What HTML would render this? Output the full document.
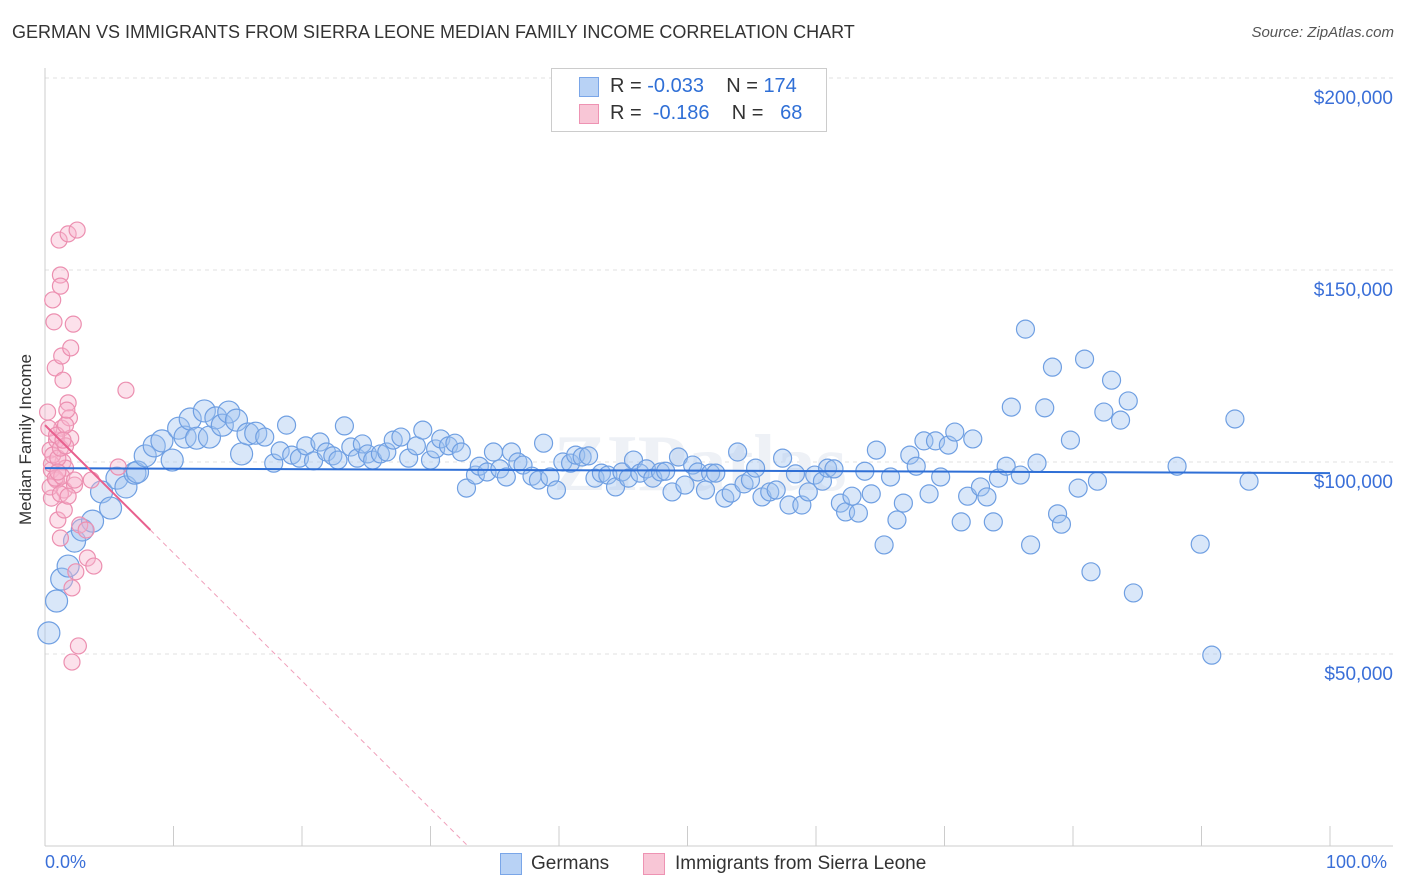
<!DOCTYPE html>
<html><head><meta charset="utf-8">
<style>
body{margin:0;background:#fff;font-family:"Liberation Sans",sans-serif;}
#wrap{position:relative;width:1406px;height:892px;overflow:hidden;}
.t{position:absolute;white-space:nowrap;}
</style></head>
<body>
<div id="wrap">
<div class="t" style="left:12px;top:22px;font-size:18px;color:#333;">GERMAN VS IMMIGRANTS FROM SIERRA LEONE MEDIAN FAMILY INCOME CORRELATION CHART</div>
<div class="t" style="right:12px;top:24px;font-size:15px;color:#555;font-style:italic;">Source: ZipAtlas.com</div>
<div class="t" style="left:-44px;top:445px;font-size:17px;color:#333;transform:rotate(-90deg);width:140px;text-align:center;">Median Family Income</div>
<svg id="svg" width="1406" height="892" style="position:absolute;left:0;top:0"></svg>
<div class="t" style="left:45px;top:852px;font-size:18px;color:#3a6fd8;">0.0%</div>
<div class="t" style="left:1326px;top:852px;font-size:18px;color:#3a6fd8;">100.0%</div>
<div style="position:absolute;left:551px;top:68px;width:274px;height:62px;border:1px solid #ccc;background:#fff;font-size:20px;">
  <div style="position:absolute;left:27px;top:8px;width:18px;height:18px;background:#b8d2f5;border:1px solid #7aa6e8;"></div>
  <div class="t" style="left:58px;top:6px;color:#333;">R = <span style="color:#2f6fd6">-0.033</span>&nbsp;&nbsp;&nbsp; N = <span style="color:#2f6fd6">174</span></div>
  <div style="position:absolute;left:27px;top:35px;width:18px;height:18px;background:#f8c6d6;border:1px solid #ee93b3;"></div>
  <div class="t" style="left:58px;top:33px;color:#333;">R = &nbsp;<span style="color:#2f6fd6">-0.186</span>&nbsp;&nbsp;&nbsp; N = &nbsp;&nbsp;<span style="color:#2f6fd6">68</span></div>
</div>
<div style="position:absolute;left:500px;top:853px;width:20px;height:20px;background:#b8d2f5;border:1px solid #7aa6e8;"></div>
<div class="t" style="left:531px;top:853px;font-size:19px;color:#333;">Germans</div>
<div style="position:absolute;left:643px;top:853px;width:20px;height:20px;background:#f8c6d6;border:1px solid #ee93b3;"></div>
<div class="t" style="left:675px;top:853px;font-size:19px;color:#333;">Immigrants from Sierra Leone</div>
</div>
<script>
const yTicks=[50000,100000,150000,200000];
const yTickLabels=["$50,000","$100,000","$150,000","$200,000"];
const xTicks=[0,10,20,30,40,50,60,70,80,90,100];
const blueX=[0.3,0.9,1.3,1.8,2.3,2.9,3.7,4.4,5.1,5.6,6.3,7.0,7.2,7.8,8.5,9.1,9.9,10.4,10.9,11.3,11.8,12.4,12.8,13.3,13.8,14.3,14.9,15.3,15.8,16.4,17.1,17.8,18.3,18.8,19.2,19.8,20.3,20.9,21.4,21.9,22.4,22.8,23.3,23.8,24.3,24.7,25.1,25.5,26.1,26.6,27.1,27.7,28.3,28.9,29.4,30.0,30.4,30.8,31.4,31.9,32.4,32.8,33.5,33.8,34.4,34.9,35.4,35.9,36.3,36.8,37.2,37.9,38.4,38.8,39.3,39.8,40.3,40.9,41.3,41.8,42.3,42.8,43.3,43.8,44.4,44.9,45.4,45.8,46.3,46.8,47.3,47.9,48.3,48.8,49.3,49.8,50.4,50.8,51.4,51.8,52.2,52.9,53.4,53.9,54.4,54.9,55.3,55.8,56.4,56.9,57.4,57.9,58.4,58.9,59.4,59.9,60.5,60.9,61.4,61.9,62.3,62.8,63.3,63.8,64.3,64.7,65.3,65.8,66.3,66.8,67.3,67.8,68.4,68.8,69.3,69.7,70.3,70.8,71.3,71.8,72.2,72.8,73.3,73.8,74.2,74.8,75.2,75.9,76.3,76.7,77.2,77.8,78.4,78.8,79.1,79.8,80.4,80.9,81.4,81.9,82.4,83.0,83.7,84.3,84.7,88.1,89.9,90.8,92.6,93.7];
const blueY=[55.5,63.8,69.5,72.9,79.4,82.3,84.6,92.2,88.0,95.8,93.5,97.1,97.4,101.6,104.2,105.5,100.5,108.8,106.5,111.2,106.2,113.3,106.5,111.5,109.6,113.0,110.9,102.1,107.3,107.5,106.5,99.7,102.9,109.6,101.8,101.0,104.2,100.3,105.2,102.6,101.6,100.5,109.4,103.9,101.0,104.7,102.1,100.5,102.1,102.6,105.7,106.5,101.0,104.2,108.3,100.5,103.4,106.0,104.2,104.9,102.6,93.2,96.6,98.9,97.4,102.6,98.2,96.1,102.6,100.0,99.2,96.3,95.3,104.9,96.1,92.7,100.0,99.7,101.8,101.3,101.6,95.8,97.1,96.6,93.5,97.4,95.8,100.5,97.1,98.2,95.8,97.4,97.6,92.2,101.3,94.0,99.2,97.4,92.7,97.1,97.1,90.6,91.9,102.6,94.3,95.3,98.4,90.9,92.2,92.7,101.0,88.8,96.9,88.8,92.2,96.6,95.0,98.4,98.2,89.3,87.0,91.1,86.7,97.6,91.7,103.1,78.4,96.1,84.9,89.3,101.8,98.9,105.5,91.7,105.5,96.1,104.4,107.8,84.4,91.1,106.0,93.5,90.9,84.4,95.8,98.9,114.3,96.6,134.6,78.4,99.7,114.1,124.7,86.5,83.8,105.7,93.2,126.8,71.4,95.0,113.0,121.3,110.9,115.9,65.9,98.9,78.6,49.7,111.2,95.0];
const pinkX=[0.2,0.4,0.5,0.5,0.6,0.7,0.8,0.9,0.9,1.0,1.1,1.2,1.2,1.3,1.4,1.3,1.4,1.5,1.6,1.8,1.8,1.9,2.0,2.0,2.1,2.1,2.2,2.3,2.4,2.5,2.6,2.7,3.2,3.3,3.8,5.7,6.3,0.3,0.4,0.5,0.6,0.8,0.9,1.0,1.2,1.2,1.3,1.5,1.6,1.6,1.7,1.2,1.8,3.6,2.3,1.0,1.4];
const pinkY=[113.0,103.1,97.9,90.6,142.2,136.5,124.5,105.7,95.3,84.9,157.8,148.7,145.8,127.6,121.3,108.8,100.0,92.7,98.4,159.4,115.4,111.5,129.7,106.2,67.2,47.9,135.9,94.0,71.4,160.4,52.1,83.6,82.3,75.0,72.9,98.7,118.7,108.8,93.5,99.5,101.8,95.8,107.0,101.0,103.6,91.7,96.3,87.5,109.6,104.2,113.5,80.2,91.1,95.3,95.3,97.4,105.7];
const blueTrend=[98.4,-0.013];
const pinkTrend=[109.6,-3.33];
const pinkSolidEnd=8.2;

const NS="http://www.w3.org/2000/svg",svg=document.getElementById('svg');
const X0=45,X1=1330,YB=846,PXK=192/50;
const xs=v=>X0+(X1-X0)*v/100, ys=k=>YB-k*PXK;
function mk(t,a){const e=document.createElementNS(NS,t);for(const k in a)e.setAttribute(k,a[k]);svg.appendChild(e);return e;}
yTicks.forEach((v,i)=>{
  const g=mk('line',{x1:X0,x2:1393,y1:ys(v/1000),y2:ys(v/1000),stroke:'#e2e2e2','stroke-dasharray':'4,4'});
  
  
  const t=mk('text',{x:1393,y:ys(v/1000)+26,'text-anchor':'end','font-size':19,fill:'#3a6fd8','font-family':'Liberation Sans, sans-serif'});
  t.textContent=yTickLabels[i];
  
  
});
const topLine=mk('line',{x1:X0,x2:1393,y1:78,y2:78,stroke:'#e2e2e2','stroke-dasharray':'4,4'});


const ax=mk('line',{x1:X0,x2:X0,y1:68,y2:YB,stroke:'#ccc'});


const bx=mk('line',{x1:X0,x2:1393,y1:YB,y2:YB,stroke:'#ccc'});


xTicks.forEach(v=>{
  const l=mk('line',{x1:xs(v),x2:xs(v),y1:826,y2:YB,stroke:'#ccc'});
  
  
});
const wm=mk('text',{x:700,y:490,'text-anchor':'middle','font-size':80,fill:'#eef1f6','font-weight':'bold','font-family':'Liberation Serif, serif'});
wm.textContent='ZIPatlas';


blueX.forEach((x,i)=>{
  const r=i<30?11:9;
  const c=mk('circle',{cx:xs(x),cy:ys(blueY[i]),r:r,fill:'rgba(160,195,240,0.4)',stroke:'#6f9fe2','stroke-width':1.2});
  
  
});
pinkX.forEach((x,i)=>{
  const c=mk('circle',{cx:xs(x),cy:ys(pinkY[i]),r:8,fill:'rgba(248,180,205,0.4)',stroke:'#ec8fb0','stroke-width':1.2});
  
  
});
const bl=mk('line',{x1:xs(0),y1:ys(blueTrend[0]),x2:xs(100),y2:ys(blueTrend[0]+blueTrend[1]*100),stroke:'#2f6fd6','stroke-width':2});


const pEnd=-pinkTrend[0]/pinkTrend[1];
const pd=mk('line',{x1:xs(pinkSolidEnd),y1:ys(pinkTrend[0]+pinkTrend[1]*pinkSolidEnd),x2:xs(pEnd),y2:ys(0),stroke:'#f0a0bb','stroke-width':1,'stroke-dasharray':'5,4'});


const ps=mk('line',{x1:xs(0),y1:ys(pinkTrend[0]),x2:xs(pinkSolidEnd),y2:ys(pinkTrend[0]+pinkTrend[1]*pinkSolidEnd),stroke:'#e8608e','stroke-width':2});


</script>
</body></html>
